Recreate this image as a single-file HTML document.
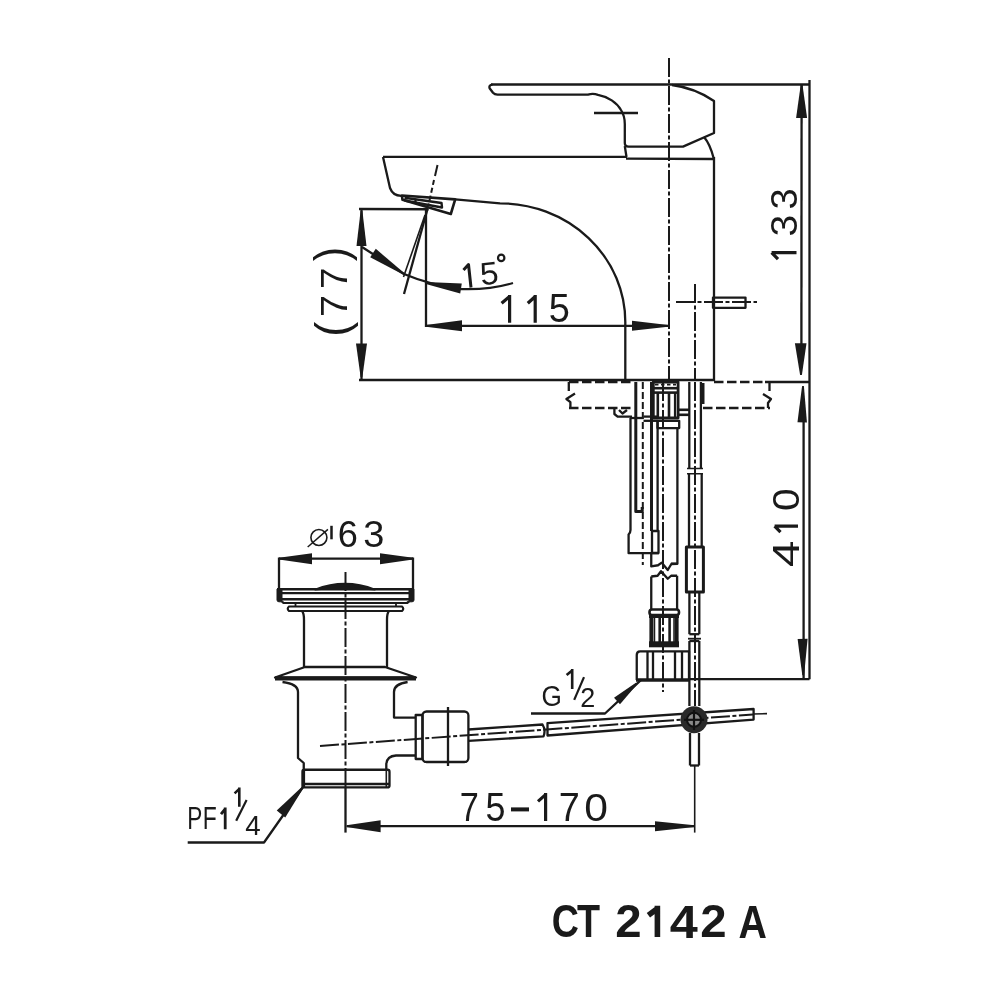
<!DOCTYPE html>
<html><head><meta charset="utf-8"><style>
html,body{margin:0;padding:0;background:#fff;}
svg{display:block;will-change:transform;}
text{font-family:"Liberation Sans",sans-serif;}
</style></head><body>
<svg width="1000" height="1000" viewBox="0 0 1000 1000" stroke-linecap="butt" stroke-linejoin="round">
<rect width="1000" height="1000" fill="#fff"/>
<line x1="669" y1="58" x2="669" y2="380" stroke="#1a1a1a" stroke-width="2" stroke-dasharray="19 2.5 4 2.5"/>
<line x1="491" y1="84.5" x2="809.7" y2="84.5" stroke="#1a1a1a" stroke-width="2.3"/>
<path d="M 492.5 84.6 Q 488.6 85 489.6 88.2 L 493 92.8 Q 494.6 94.6 497.5 94.6 H 588 Q 593 93.2 598 94.8 C 608 96.5, 617 103, 621 110 Q 624.8 116 624.8 124 V 143 Q 624.8 146.6 628.5 146.6 H 683 L 714 133 V 101 Q 695 88 672 85" stroke="#1a1a1a" stroke-width="2.3" fill="none" />
<line x1="624.8" y1="146" x2="626.5" y2="157" stroke="#1a1a1a" stroke-width="2.3"/>
<path d="M 704 137 Q 710 144 713.6 158" stroke="#1a1a1a" stroke-width="2.3" fill="none" />
<line x1="594" y1="113" x2="638" y2="113" stroke="#1a1a1a" stroke-width="2.3"/>
<line x1="383" y1="156.8" x2="627" y2="156.8" stroke="#1a1a1a" stroke-width="2.3"/>
<line x1="626" y1="158.6" x2="714" y2="159" stroke="#1a1a1a" stroke-width="2.3"/>
<path d="M 383 157 L 390 188 Q 393 196 401.6 195.8" stroke="#1a1a1a" stroke-width="2.3" fill="none" />
<path d="M 401.9 195.5 L 455.2 199.4 L 450.8 214 L 402.5 199.7 Z" stroke="#1a1a1a" stroke-width="2.6" fill="none" />
<path d="M 404.5 197.8 L 441.5 203 L 442 207.5 L 404.5 200.5" stroke="#1a1a1a" stroke-width="2.4" fill="none" />
<line x1="415.5" y1="199" x2="415.5" y2="203.6" stroke="#1a1a1a" stroke-width="2.2"/>
<path d="M 455.2 199.4 L 500 203.3 A 125.3 118.7 0 0 1 625.3 322 V 380" stroke="#1a1a1a" stroke-width="2.3" fill="none" />
<line x1="714" y1="157" x2="714" y2="381" stroke="#1a1a1a" stroke-width="2.3"/>
<line x1="359" y1="380" x2="714" y2="380" stroke="#1a1a1a" stroke-width="2.3"/>
<line x1="714" y1="382" x2="765" y2="382" stroke="#1a1a1a" stroke-width="2.3" stroke-dasharray="9.5 3.5"/>
<line x1="765" y1="382" x2="809.5" y2="382" stroke="#1a1a1a" stroke-width="2.3"/>
<rect x="713" y="297.6" width="32.5" height="10.2" rx="0" stroke="#1a1a1a" stroke-width="2.3" fill="none"/>
<line x1="676" y1="302" x2="757" y2="302" stroke="#1a1a1a" stroke-width="2" stroke-dasharray="19 2.5 4 2.5"/>
<line x1="695" y1="284" x2="695" y2="380" stroke="#1a1a1a" stroke-width="2" stroke-dasharray="19 2.5 4 2.5"/>
<line x1="809.5" y1="80" x2="809.5" y2="679.2" stroke="#1a1a1a" stroke-width="2.3"/>
<line x1="801.6" y1="85" x2="801.4" y2="350" stroke="#1a1a1a" stroke-width="2.3"/>
<line x1="803.6" y1="415" x2="803.6" y2="679" stroke="#1a1a1a" stroke-width="2.3"/>
<polygon points="802.50,85.00 807.10,118.00 796.10,118.00 800.70,85.00" fill="#1a1a1a"/>
<polygon points="800.10,375.01 794.90,343.25 806.50,343.15 801.90,374.99" fill="#1a1a1a"/>
<polygon points="803.90,386.02 806.95,422.50 797.45,422.30 802.10,385.98" fill="#1a1a1a"/>
<polygon points="802.30,675.21 797.60,638.88 807.60,638.72 804.10,675.19" fill="#1a1a1a"/>
<line x1="689" y1="679.2" x2="809.5" y2="679.2" stroke="#1a1a1a" stroke-width="2.3"/>
<text transform="matrix(0 -0.37965 0.37429 0 796.634 209.446)" font-size="100" fill="#1a1a1a">3</text>
<text transform="matrix(0 -0.39020 0.37429 0 796.634 236.486)" font-size="100" fill="#1a1a1a">3</text>
<path d="M 771.6 252.6 H 796.5 M 771.6 252.6 L 778.0 259.2" stroke="#1a1a1a" stroke-width="3.2" fill="none" />
<text transform="matrix(0 -0.40793 0.37429 0 799.134 511.093)" font-size="100" fill="#1a1a1a">0</text>
<path d="M 774.6 526.1 H 798.0 M 774.6 526.1 L 780.5 532.2" stroke="#1a1a1a" stroke-width="3.2" fill="none" />
<text transform="matrix(0 -0.47628 0.36338 0 799.000 567.093)" font-size="100" fill="#1a1a1a">4</text>
<line x1="359" y1="209" x2="428.6" y2="209.25" stroke="#1a1a1a" stroke-width="2.3"/>
<line x1="361.5" y1="209" x2="361.5" y2="380" stroke="#1a1a1a" stroke-width="2.3"/>
<polygon points="362.40,211.00 366.50,246.00 356.50,246.00 360.60,211.00" fill="#1a1a1a"/>
<polygon points="360.60,377.00 356.00,343.60 367.00,343.60 362.40,377.00" fill="#1a1a1a"/>
<text transform="matrix(0 -0.43374 0.46155 0 347.444 261.254)" font-size="100" fill="#1a1a1a">)</text>
<text transform="matrix(0 -0.38496 0.37791 0 347.000 288.974)" font-size="100" fill="#1a1a1a">7</text>
<text transform="matrix(0 -0.39596 0.37791 0 347.000 317.030)" font-size="100" fill="#1a1a1a">7</text>
<text transform="matrix(0 -0.45260 0.46692 0 347.833 336.807)" font-size="100" fill="#1a1a1a">(</text>
<line x1="426" y1="209" x2="426" y2="327" stroke="#1a1a1a" stroke-width="2.3"/>
<line x1="426" y1="325.8" x2="669" y2="325.8" stroke="#1a1a1a" stroke-width="2.3"/>
<polygon points="426.00,324.90 462.00,320.30 462.00,331.30 426.00,326.70" fill="#1a1a1a"/>
<polygon points="668.00,326.70 632.00,330.80 632.00,320.80 668.00,324.90" fill="#1a1a1a"/>
<path d="M 501.6 303.3 L 509.6 296.5 M 509.6 294.9 V 322.8" stroke="#1a1a1a" stroke-width="3.2" fill="none" stroke-linejoin="miter"/>
<path d="M 527.8 303.3 L 535.2 296.5 M 535.2 294.9 V 322.8" stroke="#1a1a1a" stroke-width="3.2" fill="none" stroke-linejoin="miter"/>
<text transform="matrix(0.37965 0 0 0.39985 548.780 322.410)" font-size="100" fill="#1a1a1a">5</text>
<line x1="434" y1="180" x2="428.5" y2="205" stroke="#1a1a1a" stroke-width="2" stroke-dasharray="5 3"/>
<line x1="437.5" y1="165" x2="435" y2="176" stroke="#1a1a1a" stroke-width="2"/>
<line x1="427.5" y1="209" x2="404" y2="294" stroke="#1a1a1a" stroke-width="2.3"/>
<line x1="425" y1="215" x2="403.5" y2="277" stroke="#1a1a1a" stroke-width="1.6"/>
<path d="M 362 247 L 404 274 Q 430 285 461 289 Q 490 290 513 283" stroke="#1a1a1a" stroke-width="2.3" fill="none" />
<polygon points="403.50,274.75 370.20,257.14 375.80,248.86 404.50,273.25" fill="#1a1a1a"/>
<polygon points="426.14,282.11 461.78,283.56 460.22,293.44 425.86,283.89" fill="#1a1a1a"/>
<path d="M 463.5 270 L 468.5 264.5 L 471 287.5" stroke="#1a1a1a" stroke-width="3" fill="none" />
<text transform="rotate(-6 489 273) matrix(0.32903 0 0 0.31816 480.083 284.289)" font-size="100" fill="#1a1a1a">5</text>
<circle cx="501.2" cy="257.9" r="3.2" stroke="#1a1a1a" stroke-width="2.2" fill="none"/>
<line x1="569" y1="408" x2="633" y2="408" stroke="#1a1a1a" stroke-width="2.3" stroke-dasharray="9.5 3.5"/>
<line x1="703" y1="408" x2="770" y2="408" stroke="#1a1a1a" stroke-width="2.3" stroke-dasharray="9.5 3.5"/>
<line x1="569" y1="382.2" x2="633.6" y2="382.2" stroke="#1a1a1a" stroke-width="2.3" stroke-dasharray="9.5 3.5"/>
<path d="M 568.8 382 V 391 M 575 393.5 L 566.4 399 L 570.4 402.2 V 408" stroke="#1a1a1a" stroke-width="2.3" fill="none" />
<path d="M 769.5 382 V 391 M 763 394 L 771 399 L 768 403 V 408" stroke="#1a1a1a" stroke-width="2.3" fill="none" />
<path d="M 614.4 408 V 414 L 617.6 416.6 H 632 M 619 410 L 622.5 413.5 L 627 410" stroke="#1a1a1a" stroke-width="2.3" fill="none" />
<path d="M 630.5 418 V 530 Q 630.5 532.5 628.6 534.5 V 553.2 H 659" stroke="#1a1a1a" stroke-width="2.3" fill="none" />
<path d="M 635.8 382 V 511.6 H 642.2 V 507" stroke="#1a1a1a" stroke-width="3" fill="none" />
<line x1="642.8" y1="382" x2="642.8" y2="565" stroke="#1a1a1a" stroke-width="2" stroke-dasharray="7 3"/>
<line x1="651.5" y1="382" x2="651.5" y2="531" stroke="#1a1a1a" stroke-width="3"/>
<rect x="652" y="531" width="6.5" height="22" rx="0" stroke="#1a1a1a" stroke-width="2.3" fill="none"/>
<line x1="657.6" y1="421" x2="657.6" y2="531" stroke="#1a1a1a" stroke-width="2.3"/>
<line x1="663" y1="382" x2="663" y2="692" stroke="#1a1a1a" stroke-width="2" stroke-dasharray="19 2.5 4 2.5"/>
<path d="M 677.4 428 V 563.8 L 671 564" stroke="#1a1a1a" stroke-width="2.3" fill="none" />
<rect x="653.3" y="382" width="24.8" height="36" rx="0" stroke="#1a1a1a" stroke-width="2.8" fill="none"/>
<line x1="653" y1="388.2" x2="678" y2="388.2" stroke="#1a1a1a" stroke-width="2.6"/>
<line x1="653" y1="392.6" x2="678" y2="392.6" stroke="#1a1a1a" stroke-width="2.6"/>
<line x1="655" y1="384.6" x2="676" y2="384.6" stroke="#1a1a1a" stroke-width="1.8" stroke-dasharray="3.5 2.5"/>
<line x1="657.8" y1="392.6" x2="657.8" y2="418" stroke="#1a1a1a" stroke-width="2.6"/>
<line x1="669" y1="392.6" x2="669" y2="418" stroke="#1a1a1a" stroke-width="2.6"/>
<line x1="675" y1="392.6" x2="675" y2="418" stroke="#1a1a1a" stroke-width="2.2"/>
<rect x="657.5" y="420.8" width="21.7" height="7.3" rx="0" stroke="#1a1a1a" stroke-width="2.3" fill="none"/>
<line x1="630" y1="418" x2="643.5" y2="418" stroke="#1a1a1a" stroke-width="2.3"/>
<line x1="643.5" y1="416.6" x2="657.5" y2="416.6" stroke="#1a1a1a" stroke-width="2.3"/>
<line x1="643.5" y1="420.8" x2="657.5" y2="420.8" stroke="#1a1a1a" stroke-width="2.3"/>
<line x1="678" y1="409.8" x2="689" y2="409.8" stroke="#1a1a1a" stroke-width="2.6"/>
<line x1="678" y1="414.8" x2="689" y2="414.8" stroke="#1a1a1a" stroke-width="2.6"/>
<line x1="703" y1="383" x2="703" y2="404" stroke="#1a1a1a" stroke-width="3"/>
<line x1="689.3" y1="382" x2="689.3" y2="468.4" stroke="#1a1a1a" stroke-width="2.3"/>
<line x1="700.9" y1="382" x2="700.9" y2="468.4" stroke="#1a1a1a" stroke-width="2.3"/>
<line x1="689" y1="473.8" x2="689" y2="547" stroke="#1a1a1a" stroke-width="2.3"/>
<line x1="701.7" y1="473.8" x2="701.7" y2="547" stroke="#1a1a1a" stroke-width="2.3"/>
<path d="M 687 468.4 H 703 M 687 473.8 H 703" stroke="#1a1a1a" stroke-width="1.5" fill="none" />
<line x1="695" y1="382" x2="695" y2="706" stroke="#1a1a1a" stroke-width="2" stroke-dasharray="19 2.5 4 2.5"/>
<rect x="686.4" y="547" width="17" height="45" rx="0" stroke="#1a1a1a" stroke-width="3" fill="none"/>
<line x1="689.4" y1="592" x2="689.4" y2="634.2" stroke="#1a1a1a" stroke-width="2.3"/>
<line x1="699.3" y1="592" x2="699.3" y2="634.2" stroke="#1a1a1a" stroke-width="2.3"/>
<line x1="689.4" y1="634.2" x2="699.3" y2="634.2" stroke="#1a1a1a" stroke-width="2.3"/>
<line x1="689.4" y1="641" x2="689.4" y2="706" stroke="#1a1a1a" stroke-width="2.3"/>
<line x1="699.3" y1="641" x2="699.3" y2="706" stroke="#1a1a1a" stroke-width="2.3"/>
<line x1="689.4" y1="641" x2="699.3" y2="641" stroke="#1a1a1a" stroke-width="2.3"/>
<line x1="688" y1="638.7" x2="701" y2="638.7" stroke="#1a1a1a" stroke-width="1.8"/>
<path d="M 651.25 553 V 566.4 L 658 565.25 L 661.75 562.6 L 667.75 570 L 671.5 563.75 L 677.1 563.75" stroke="#1a1a1a" stroke-width="2.3" fill="none" />
<path d="M 651.25 576.5 L 657.6 575.75 L 661 571.25 L 667.75 578.75 L 671.1 575.75 L 677.1 575.75" stroke="#1a1a1a" stroke-width="2.3" fill="none" />
<line x1="651.25" y1="576.5" x2="651.25" y2="609" stroke="#1a1a1a" stroke-width="2.3"/>
<line x1="677.1" y1="575.75" x2="677.1" y2="609" stroke="#1a1a1a" stroke-width="2.3"/>
<rect x="649.5" y="609.5" width="29.5" height="5.5" rx="2.5" stroke="#1a1a1a" stroke-width="2.6" fill="none"/>
<line x1="651.4" y1="615" x2="651.4" y2="647" stroke="#1a1a1a" stroke-width="4"/>
<line x1="676.6" y1="615" x2="676.6" y2="647" stroke="#1a1a1a" stroke-width="4"/>
<line x1="649" y1="644.3" x2="679" y2="644.3" stroke="#1a1a1a" stroke-width="6"/>
<line x1="649" y1="616.5" x2="679" y2="616.5" stroke="#1a1a1a" stroke-width="3"/>
<line x1="659.7" y1="617" x2="659.7" y2="642" stroke="#1a1a1a" stroke-width="2.6"/>
<line x1="669.6" y1="617" x2="669.6" y2="642" stroke="#1a1a1a" stroke-width="2.6"/>
<line x1="654.5" y1="617" x2="654.5" y2="642" stroke="#1a1a1a" stroke-width="1.5"/>
<line x1="674" y1="617" x2="674" y2="642" stroke="#1a1a1a" stroke-width="1.5"/>
<path d="M 636.75 680 V 655 Q 636.75 651.3 640 651.3 H 689 V 680" stroke="#1a1a1a" stroke-width="2.3" fill="none" />
<line x1="636" y1="680" x2="689" y2="680" stroke="#1a1a1a" stroke-width="3.5"/>
<line x1="647.5" y1="652" x2="647.5" y2="679" stroke="#1a1a1a" stroke-width="2.3"/>
<line x1="653" y1="652" x2="653" y2="679" stroke="#1a1a1a" stroke-width="2.3"/>
<line x1="675" y1="652" x2="675" y2="679" stroke="#1a1a1a" stroke-width="2.3"/>
<line x1="682" y1="652" x2="682" y2="679" stroke="#1a1a1a" stroke-width="2.3"/>
<line x1="279" y1="558.7" x2="413" y2="558.7" stroke="#1a1a1a" stroke-width="2.3"/>
<polygon points="279.00,557.80 312.00,553.20 312.00,564.20 279.00,559.60" fill="#1a1a1a"/>
<polygon points="413.00,559.60 380.00,564.20 380.00,553.20 413.00,557.80" fill="#1a1a1a"/>
<line x1="279" y1="557.5" x2="279" y2="589" stroke="#1a1a1a" stroke-width="2.3"/>
<line x1="413" y1="557.5" x2="413" y2="589" stroke="#1a1a1a" stroke-width="2.3"/>
<circle cx="318.9" cy="537.5" r="8" stroke="#1a1a1a" stroke-width="1.6" fill="none"/>
<line x1="307.7" y1="547" x2="327.9" y2="529.4" stroke="#1a1a1a" stroke-width="1.5"/>
<line x1="331.5" y1="525.8" x2="331.5" y2="539.3" stroke="#1a1a1a" stroke-width="2.5"/>
<text transform="matrix(0.36192 0 0 0.36864 337.762 546.640)" font-size="100" fill="#1a1a1a">6</text>
<text transform="matrix(0.37965 0 0 0.36864 363.354 546.640)" font-size="100" fill="#1a1a1a">3</text>
<line x1="345.5" y1="572" x2="345.5" y2="788" stroke="#1a1a1a" stroke-width="2" stroke-dasharray="19 2.5 4 2.5"/>
<line x1="345.5" y1="788" x2="345.5" y2="832.6" stroke="#1a1a1a" stroke-width="2.3"/>
<path d="M 315 589.5 Q 345 578 375 589.5 Q 345 586 315 589.5 Z" stroke="#1a1a1a" stroke-width="1.8" fill="#1a1a1a" />
<line x1="277" y1="589.2" x2="414" y2="589.2" stroke="#1a1a1a" stroke-width="2.4"/>
<line x1="280" y1="593.2" x2="411" y2="593.2" stroke="#1a1a1a" stroke-width="2.2"/>
<line x1="280" y1="599.2" x2="411" y2="599.2" stroke="#1a1a1a" stroke-width="2.4"/>
<path d="M 277 589 V 600 Q 277 601.8 279 601.8 H 282 V 589 Z M 414 589 V 600 Q 414 601.8 412 601.8 H 409 V 589 Z" stroke="#1a1a1a" stroke-width="1" fill="#1a1a1a" />
<path d="M 282 601.5 L 283.5 603 H 407 L 409 601.5" stroke="#1a1a1a" stroke-width="2.2" fill="none" />
<path d="M 289 606.5 H 402 Q 404.5 608.7 402 611 H 289 Q 286.5 608.7 289 606.5 Z" stroke="#1a1a1a" stroke-width="2.2" fill="none" />
<line x1="295.5" y1="603" x2="295.5" y2="606.5" stroke="#1a1a1a" stroke-width="1.8"/>
<line x1="396" y1="603" x2="396" y2="606.5" stroke="#1a1a1a" stroke-width="1.8"/>
<path d="M 302 611 Q 304 613 304 620 V 667" stroke="#1a1a1a" stroke-width="2.3" fill="none" />
<path d="M 389 611 Q 387 613 387 620 V 667" stroke="#1a1a1a" stroke-width="2.3" fill="none" />
<path d="M 305 667 H 385 L 416 677.5 H 275 Z" stroke="#1a1a1a" stroke-width="2.3" fill="none" />
<line x1="275" y1="678.4" x2="416" y2="678.4" stroke="#1a1a1a" stroke-width="4"/>
<path d="M 282.5 682 Q 298 684 298 692 V 758 L 303.75 763 V 769" stroke="#1a1a1a" stroke-width="2.3" fill="none" />
<path d="M 407.6 682 Q 394 684 394 692 V 717.6 H 415.7" stroke="#1a1a1a" stroke-width="2.3" fill="none" />
<path d="M 415.7 755.5 H 396 Q 387 756 386.3 764 V 769" stroke="#1a1a1a" stroke-width="2.3" fill="none" />
<rect x="302.5" y="769.75" width="87" height="17.65" rx="2" stroke="#1a1a1a" stroke-width="2.3" fill="none"/>
<line x1="302" y1="784" x2="389" y2="784" stroke="#1a1a1a" stroke-width="2.3"/>
<line x1="386.3" y1="770" x2="386.3" y2="787" stroke="#1a1a1a" stroke-width="1.6"/>
<line x1="303.5" y1="769.5" x2="303.5" y2="787.5" stroke="#1a1a1a" stroke-width="3.2"/>
<rect x="415.7" y="715" width="6.8" height="44" rx="0" stroke="#1a1a1a" stroke-width="2.3" fill="none"/>
<rect x="422.5" y="711.5" width="45.9" height="50.5" rx="4" stroke="#1a1a1a" stroke-width="2.3" fill="none"/>
<line x1="448" y1="707" x2="448" y2="766" stroke="#1a1a1a" stroke-width="2.3"/>
<line x1="320" y1="746" x2="753" y2="714.5" stroke="#1a1a1a" stroke-width="2" stroke-dasharray="19 2.5 4 2.5"/>
<line x1="753" y1="714" x2="767" y2="713.6" stroke="#1a1a1a" stroke-width="1.6"/>
<path d="M 468.4 729.5 L 542.5 724.5 Q 546 730 543.5 736.4 L 468.4 740.8" stroke="#1a1a1a" stroke-width="2.3" fill="none" />
<path d="M 547.5 723.1 L 753.6 709 V 719.6 L 547.5 735.5 Z" stroke="#1a1a1a" stroke-width="2.3" fill="none" />
<circle cx="694" cy="719.8" r="13.5" fill="#2a2a2a"/>
<circle cx="694" cy="719.8" r="7" stroke="#111" stroke-width="2" fill="#8a8a8a"/>
<line x1="694" y1="710" x2="694" y2="730" stroke="#111" stroke-width="2.2"/>
<line x1="684" y1="719.8" x2="704" y2="719.8" stroke="#111" stroke-width="2.2"/>
<line x1="690" y1="733" x2="690" y2="765.5" stroke="#1a1a1a" stroke-width="2.3"/>
<line x1="699" y1="733" x2="699" y2="765.5" stroke="#1a1a1a" stroke-width="2.3"/>
<line x1="690" y1="765.5" x2="699" y2="765.5" stroke="#1a1a1a" stroke-width="2.3"/>
<line x1="694.7" y1="765" x2="694.7" y2="832.6" stroke="#1a1a1a" stroke-width="1.6"/>
<path d="M 531 713.5 H 605 L 641.4 679.7" stroke="#1a1a1a" stroke-width="2.3" fill="none" />
<polygon points="637.10,684.17 620.01,704.35 613.99,697.65 635.90,682.83" fill="#1a1a1a"/>
<text transform="matrix(0.26194 0 0 0.30226 541.383 705.905)" font-size="100" fill="#1a1a1a">G</text>
<path d="M 566.6 675.1 L 572.2 670.4 M 572.2 669.1 V 689.0" stroke="#1a1a1a" stroke-width="2.6" fill="none" stroke-linejoin="miter"/>
<line x1="574.2" y1="699.9" x2="584" y2="677.1" stroke="#1a1a1a" stroke-width="2.2"/>
<text transform="matrix(0.26999 0 0 0.27927 580.142 706.500)" font-size="100" fill="#1a1a1a">2</text>
<line x1="347" y1="826.2" x2="694.7" y2="826.2" stroke="#1a1a1a" stroke-width="2.3"/>
<polygon points="346.50,825.30 380.60,820.20 380.60,832.20 346.50,827.10" fill="#1a1a1a"/>
<polygon points="694.50,827.10 655.00,831.20 655.00,821.20 694.50,825.30" fill="#1a1a1a"/>
<text transform="matrix(0.34317 0 0 0.41280 459.641 821.400)" font-size="100" fill="#1a1a1a">7</text>
<text transform="matrix(0.35856 0 0 0.40129 485.564 821.008)" font-size="100" fill="#1a1a1a">5</text>
<rect x="511" y="807.4" width="18" height="4" fill="#1a1a1a"/>
<path d="M 538.0 801.4 L 545.6 794.6 M 545.6 793.0 V 821.0" stroke="#1a1a1a" stroke-width="3.2" fill="none" stroke-linejoin="miter"/>
<text transform="matrix(0.37836 0 0 0.40117 558.860 821.000)" font-size="100" fill="#1a1a1a">7</text>
<text transform="matrix(0.42675 0 0 0.39548 584.333 820.614)" font-size="100" fill="#1a1a1a">0</text>
<path d="M 187.7 842.5 H 264 L 303 787" stroke="#1a1a1a" stroke-width="2.3" fill="none" />
<polygon points="303.70,787.57 285.26,817.47 276.74,810.53 302.30,786.43" fill="#1a1a1a"/>
<text transform="matrix(0.22547 0 0 0.31396 187.150 829.200)" font-size="100" fill="#1a1a1a">P</text>
<text transform="matrix(0.22915 0 0 0.31396 202.720 829.200)" font-size="100" fill="#1a1a1a">F</text>
<path d="M 221.0 814.1 L 225.2 809.0 M 225.2 807.6 V 829.2" stroke="#1a1a1a" stroke-width="2.8" fill="none" stroke-linejoin="miter"/>
<path d="M 234.6 793.4 L 239.3 788.9 M 239.3 787.6 V 806.8" stroke="#1a1a1a" stroke-width="2.6" fill="none" stroke-linejoin="miter"/>
<line x1="236.2" y1="820.8" x2="246.6" y2="800" stroke="#1a1a1a" stroke-width="2.2"/>
<text transform="matrix(0.27783 0 0 0.27326 245.162 835.200)" font-size="100" fill="#1a1a1a">4</text>
<text transform="matrix(0.37626 0 0 0.45762 551.857 937.153)" font-size="100" font-weight="bold" fill="#1a1a1a">C</text>
<text transform="matrix(0.37700 0 0 0.45350 576.977 937.000)" font-size="100" font-weight="bold" fill="#1a1a1a">T</text>
<text transform="matrix(0.47357 0 0 0.45543 615.358 937.000)" font-size="100" font-weight="bold" fill="#1a1a1a">2</text>
<path d="M 648.4 915.2 L 657.4 908.6 M 657.4 905.8 V 937.0" stroke="#1a1a1a" stroke-width="5.6" fill="none" stroke-linejoin="miter"/>
<text transform="matrix(0.50407 0 0 0.47094 669.837 937.600)" font-size="100" font-weight="bold" fill="#1a1a1a">4</text>
<text transform="matrix(0.47357 0 0 0.45543 700.158 937.000)" font-size="100" font-weight="bold" fill="#1a1a1a">2</text>
<text transform="matrix(0.39350 0 0 0.47094 738.620 937.600)" font-size="100" font-weight="bold" fill="#1a1a1a">A</text>
</svg></body></html>
